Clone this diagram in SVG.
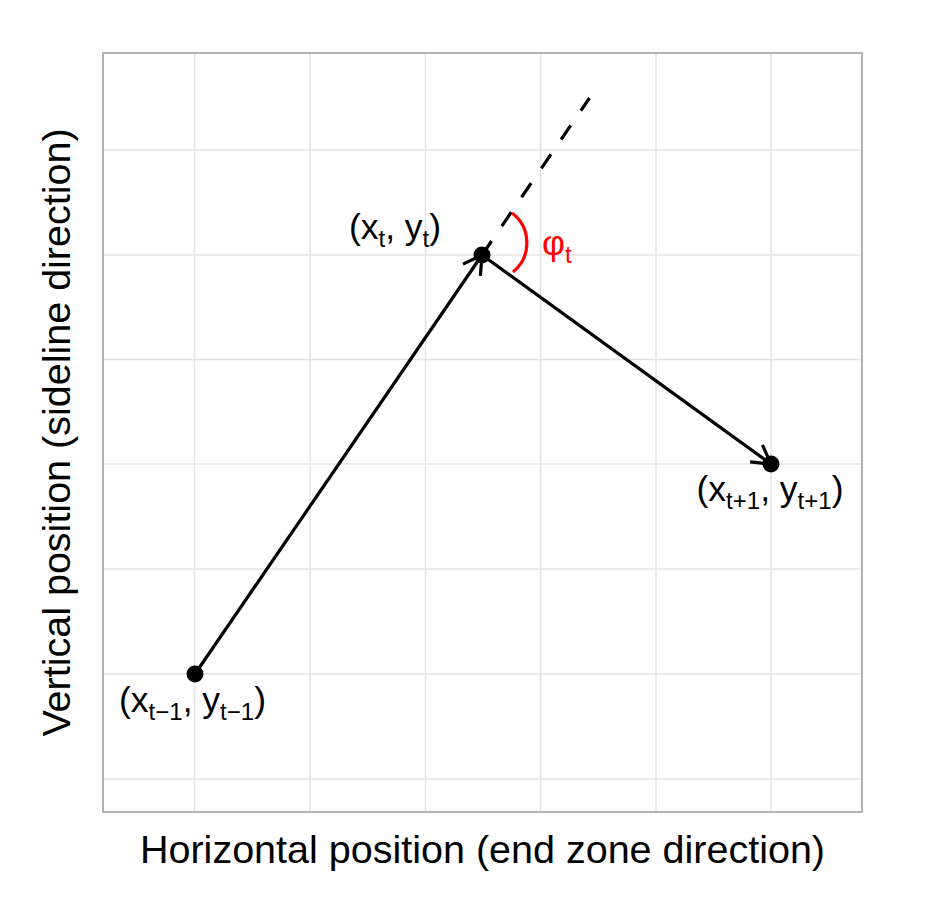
<svg xmlns="http://www.w3.org/2000/svg" width="928" height="910" viewBox="0 0 928 910">
  <style>
    text { font-family: "Liberation Sans", Arial, Helvetica, sans-serif; fill: #000; }
    .grid line { stroke: #e3e3e3; stroke-width: 1.5; }
    .seg { stroke: #000; stroke-width: 3.2; fill: none; stroke-linecap: butt; }
    .lbl { font-size: 35.5px; }
    .sub { font-size: 24px; }
    .axis { font-size: 39.5px; }
  </style>
  <defs>
    <marker id="open" viewBox="-24 -14 28 28" markerWidth="28" markerHeight="28" refX="0" refY="0" orient="auto" markerUnits="userSpaceOnUse">
      <path d="M-18.2,-10.5 L0,0 L-18.2,10.5" fill="none" stroke="#000" stroke-width="3.2"/>
    </marker>
  </defs>
  <rect x="0" y="0" width="928" height="910" fill="#fff"/>
  <g id="panel">
    <g class="grid">
      <line x1="194.5" y1="53" x2="194.5" y2="812"/>
      <line x1="310" y1="53" x2="310" y2="812"/>
      <line x1="425.5" y1="53" x2="425.5" y2="812"/>
      <line x1="540.5" y1="53" x2="540.5" y2="812"/>
      <line x1="656" y1="53" x2="656" y2="812"/>
      <line x1="771" y1="53" x2="771" y2="812"/>
      <line x1="103" y1="150" x2="862" y2="150"/>
      <line x1="103" y1="255" x2="862" y2="255"/>
      <line x1="103" y1="359.5" x2="862" y2="359.5"/>
      <line x1="103" y1="464" x2="862" y2="464"/>
      <line x1="103" y1="569" x2="862" y2="569"/>
      <line x1="103" y1="674" x2="862" y2="674"/>
      <line x1="103" y1="779" x2="862" y2="779"/>
    </g>
    <rect x="103" y="53" width="759" height="759" fill="none" stroke="#b3b3b3" stroke-width="2"/>
  </g>
  <g id="connectors">
    <line class="seg" x1="195" y1="674" x2="482" y2="255" marker-end="url(#open)"/>
    <line class="seg" x1="482" y1="255" x2="771" y2="464" marker-end="url(#open)"/>
    <line class="seg" x1="482" y1="255" x2="589.5" y2="98" stroke-dasharray="17 18" stroke-width="3.4"/>
    <path d="M512,213 A37.5,37.5 0 0 1 513,272" fill="none" stroke="#ff0000" stroke-width="3.2"/>
  </g>
  <g id="p-prev">
    <circle cx="195" cy="674" r="8.5" fill="#000"/>
    <text class="lbl" x="192.5" y="712" text-anchor="middle">(x<tspan class="sub" dy="8">t−1</tspan><tspan dy="-8">, y</tspan><tspan class="sub" dy="8">t−1</tspan><tspan dy="-8">)</tspan></text>
  </g>
  <g id="p-cur">
    <circle cx="482" cy="255" r="8.5" fill="#000"/>
    <text class="lbl" x="395" y="239" text-anchor="middle">(x<tspan class="sub" dy="8">t</tspan><tspan dy="-8">, y</tspan><tspan class="sub" dy="8">t</tspan><tspan dy="-8">)</tspan></text>
  </g>
  <g id="p-next">
    <circle cx="771" cy="464" r="8.5" fill="#000"/>
    <text class="lbl" x="770" y="501" text-anchor="middle">(x<tspan class="sub" dy="8">t+1</tspan><tspan dy="-8">, y</tspan><tspan class="sub" dy="8">t+1</tspan><tspan dy="-8">)</tspan></text>
  </g>
  <g id="angle-label">
    <text class="lbl" x="542" y="255" style="fill:#ff0000">φ<tspan class="sub" dy="8" style="fill:#ff0000">t</tspan></text>
  </g>
  <g id="axes">
    <text class="axis" x="482.5" y="863" text-anchor="middle">Horizontal position (end zone direction)</text>
    <text class="axis" x="70" y="432.5" text-anchor="middle" transform="rotate(-90 70 432.5)">Vertical position (sideline direction)</text>
  </g>
</svg>
